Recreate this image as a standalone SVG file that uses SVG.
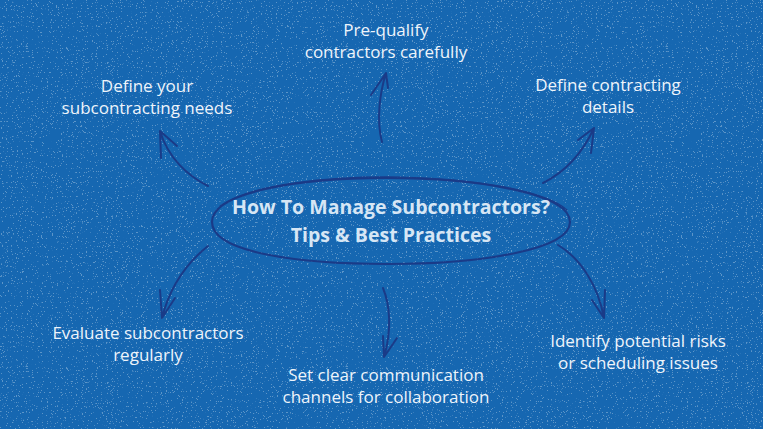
<svg xmlns="http://www.w3.org/2000/svg" width="763" height="429" viewBox="0 0 763 429">
<defs>
<style>
.lbl{font-family:"Open Sans","Liberation Sans",sans-serif;font-size:17px;fill:#eef4fb;text-anchor:middle}
.ttl{font-family:"Open Sans","Liberation Sans",sans-serif;font-size:19.5px;font-weight:700;fill:#d6e6f5;text-anchor:middle}
.arr{fill:none;stroke:#1a3b88;stroke-width:2;stroke-linecap:round;stroke-linejoin:round}
.ell{fill:none;stroke:#1a3b88;stroke-linecap:round}
</style>
<filter id="spk" x="0" y="0" width="100%" height="100%">
<feTurbulence type="fractalNoise" baseFrequency="0.8" numOctaves="2" seed="7" result="n"/>
<feColorMatrix in="n" type="matrix" values="0 0 0 0 1  0 0 0 0 1  0 0 0 0 1  22 0 0 0 -14.5" result="a"/>
<feComposite in="a" in2="SourceGraphic" operator="in"/>
</filter>
</defs>
<rect width="763" height="429" fill="#1667b1"/>
<rect width="763" height="429" fill="#1667b1" filter="url(#spk)" opacity="0.3"/>
<g id="center">
<path class="ell" stroke-width="2.2" d="M212 222 C212 192 300 178 386 178 C480 178 570 194 570 222 C570 250 480 264 388 264 C296 264 212 252 212 222 Z"/>
<path class="ell" stroke-width="1.2" d="M220 206 C250 184 330 176 400 177 C470 178 545 190 567 210"/>
<text class="ttl" x="391" y="214">How To Manage Subcontractors?</text>
<text class="ttl" x="391" y="242">Tips &amp; Best Practices</text>
</g>
<g id="n1"><text class="lbl" x="386" y="36">Pre-qualify</text><text class="lbl" x="386" y="58">contractors carefully</text></g>
<g id="n2"><text class="lbl" x="147" y="92">Define your</text><text class="lbl" x="147" y="114">subcontracting needs</text></g>
<g id="n3"><text class="lbl" x="608" y="91">Define contracting</text><text class="lbl" x="608" y="113">details</text></g>
<g id="n4"><text class="lbl" x="148" y="339">Evaluate subcontractors</text><text class="lbl" x="148" y="361">regularly</text></g>
<g id="n5"><text class="lbl" x="386" y="381">Set clear communication</text><text class="lbl" x="386" y="403">channels for collaboration</text></g>
<g id="n6"><text class="lbl" x="638" y="347">Identify potential risks</text><text class="lbl" x="638" y="369">or scheduling issues</text></g>
<g id="connectors">
<path class="arr" d="M382 142 C376 120 380 92 386 73 M371 95 L386 73 L388 88"/>
<path class="arr" d="M543 183 C565 172 583 152 594 128 M591 153 L594 128 L578 140"/>
<path class="arr" d="M208 186 C188 176 168 158 160 131 M161 158 L160 131 L177 146"/>
<path class="arr" d="M208 246 C188 262 170 286 162 318 M160 290 L162 318 L175 298"/>
<path class="arr" d="M558 245 C580 258 598 285 604 318 M605 290 L604 318 L592 300"/>
<path class="arr" d="M383 288 C390 305 392 330 384 357 M383 336 L384 357 L397 338"/>
</g>
</svg>
